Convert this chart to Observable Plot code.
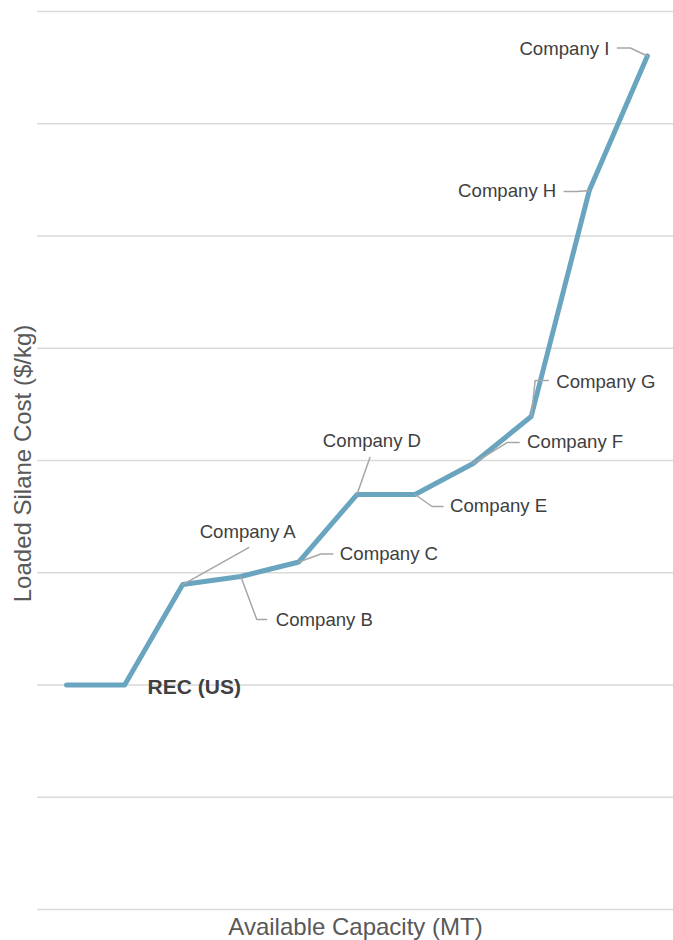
<!DOCTYPE html>
<html>
<head>
<meta charset="utf-8">
<script src="https://cdn.jsdelivr.net/npm/d3@7"></script>
<script src="https://cdn.jsdelivr.net/npm/@observablehq/plot@0.6"></script>
<style>
  html, body { margin: 0; padding: 0; background: #ffffff; }
  #chart svg { display: block; }
  #chart svg, #chart svg text { font-family: "Liberation Sans", Arial, Helvetica, sans-serif !important; }
</style>
</head>
<body>
<div id="chart"></div>
<script>
// ---- Data ----
// Cumulative available capacity (unlabelled in the source: equal steps)
const capacity = [0, 1, 2, 3, 4, 5, 6, 7, 8, 9, 10];
// Loaded silane cost at the end of each producer's block (unlabelled axis)
const cost = [2.0, 2.0, 2.895, 2.967, 3.096, 3.697, 3.697, 3.973, 4.392, 6.405, 7.604];
// Producer whose block ends at each point
const producers = ["", "REC (US)", "Company A", "Company B", "Company C", "Company D",
                   "Company E", "Company F", "Company G", "Company H", "Company I"];
const gridValues = [0, 1, 2, 3, 4, 5, 6, 7, 8];

const xTitle = "Available Capacity (MT)";
const yTitle = "Loaded Silane Cost ($/kg)";

// ---- Layout of the annotations (pixel offsets from each point) ----
const labelLayout = {
  "REC (US)":  {leader: [], label: [23, 2], anchor: "start", bold: true},
  "Company A": {leader: [[66, -37]], label: [65, -52], anchor: "middle"},
  "Company B": {leader: [[16, 43], [26, 43]], label: [35, 44], anchor: "start"},
  "Company C": {leader: [[22, -8], [34, -8]], label: [41, -8], anchor: "start"},
  "Company D": {leader: [[13, -37]], label: [15, -53], anchor: "middle"},
  "Company E": {leader: [[17, 12], [28, 12]], label: [35, 12], anchor: "start"},
  "Company F": {leader: [[34, -21], [46, -21]], label: [54, -21], anchor: "start"},
  "Company G": {leader: [[4, -36], [17, -36]], label: [25, -34], anchor: "start"},
  "Company H": {leader: [[-12, 1], [-25, 1]], label: [-33, 1], anchor: "end"},
  "Company I": {leader: [[-17, -8], [-30, -8]], label: [-38, -7], anchor: "end"}
};

const W = 673, H = 940;
const mL = 37, mR = 0, mT = 11, mB = 31;
const xDomain = [-0.5, 10.45];
const yDomain = [0, 8];
const pxPerX = (W - mL - mR) / (xDomain[1] - xDomain[0]);
const pxPerY = (H - mT - mB) / (yDomain[1] - yDomain[0]);

const points = capacity.map((c, i) => ({capacity: c, cost: cost[i], producer: producers[i]}));

const leaders = [];
const labels = [];
points.forEach(p => {
  const L = labelLayout[p.producer];
  if (!L) return;
  if (L.leader.length) {
    leaders.push({producer: p.producer, x: p.capacity, y: p.cost});
    L.leader.forEach(([dx, dy]) => leaders.push({producer: p.producer, x: p.capacity + dx / pxPerX, y: p.cost - dy / pxPerY}));
  }
  labels.push({producer: p.producer, x: p.capacity + L.label[0] / pxPerX, y: p.cost - L.label[1] / pxPerY, anchor: L.anchor, bold: !!L.bold});
});

const textMarks = ["start", "middle", "end"].map(a =>
  Plot.text(labels.filter(d => d.anchor === a && !d.bold), {
    x: "x", y: "y", text: "producer", textAnchor: a, lineAnchor: "middle",
    fontSize: 18.6, fill: "#404040"
  })
);

const chart = Plot.plot({
  width: W,
  height: H,
  marginLeft: mL, marginRight: mR, marginTop: mT, marginBottom: mB,
  x: {domain: xDomain, axis: null},
  y: {domain: yDomain, axis: null},
  style: {fontFamily: "Liberation Sans, Arial, sans-serif", background: "#ffffff"},
  marks: [
    Plot.ruleY(gridValues, {stroke: "#d9d9d9", strokeWidth: 1.5}),
    Plot.line(points, {x: "capacity", y: "cost", stroke: "#6aa5c0", strokeWidth: 5,
      strokeLinecap: "round", strokeLinejoin: "round"}),
    Plot.line(leaders, {x: "x", y: "y", z: "producer", stroke: "#a6a6a6", strokeWidth: 1.5}),
    ...textMarks,
    Plot.text(labels.filter(d => d.bold), {
      x: "x", y: "y", text: "producer", textAnchor: "start", lineAnchor: "middle",
      fontSize: 21, fontWeight: "bold", fill: "#404040"
    }),
    Plot.text([xTitle], {frameAnchor: "bottom", textAnchor: "middle", lineAnchor: "middle",
      dy: 18, fontSize: 24, fill: "#595959"}),
    Plot.text([yTitle], {frameAnchor: "left", textAnchor: "middle", lineAnchor: "middle",
      rotate: -90, dx: -14, dy: 3, fontSize: 24, fill: "#595959"})
  ]
});

document.getElementById("chart").appendChild(chart);
</script>
</body>
</html>
